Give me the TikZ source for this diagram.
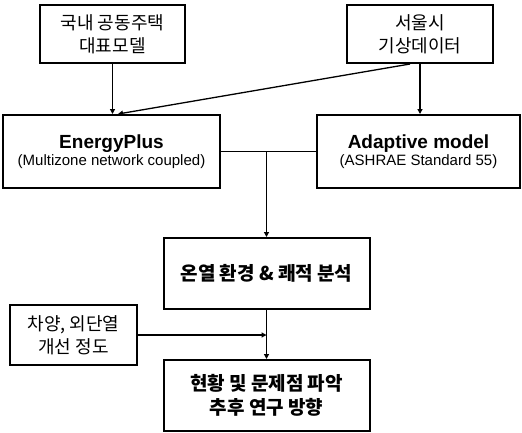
\documentclass[tikz,border=0pt]{standalone}
\usepackage{fontspec}
\setmainfont{Liberation Sans}
\newfontfamily\kr{Noto Sans CJK KR}
\usetikzlibrary{arrows.meta}
\begin{document}
\begin{tikzpicture}[x=1pt,y=-1pt,
  box/.style={draw,line width=2pt,rectangle,align=center,inner sep=0pt},
  krreg/.style={font=\kr\fontsize{18}{23}\selectfont},
  krbold/.style={font=\kr\bfseries\fontsize{19}{24}\selectfont},
  arr/.style={line width=1.3pt,-{Triangle[length=5pt,width=5pt]}},
  ln/.style={line width=1.3pt}]
\useasboundingbox (0,0) rectangle (522,432);
\node[box,krreg,minimum width=145,minimum height=58] (b1) at (112.5,34) {국내 공동주택\\대표모델};
\node[box,krreg,minimum width=146,minimum height=58] (b2) at (420,34) {서울시\\기상데이터};
\node[box,minimum width=217,minimum height=73] (ep) at (111.5,151.5) {{\fontsize{19}{23}\selectfont\bfseries EnergyPlus}\\[1pt]{\fontsize{15}{18}\selectfont (Multizone network coupled)}};
\node[box,minimum width=203,minimum height=73] (ad) at (418.5,151.5) {{\fontsize{19}{23}\selectfont\bfseries Adaptive model}\\[1pt]{\fontsize{15}{18}\selectfont (ASHRAE Standard 55)}};
\node[box,krbold,minimum width=206,minimum height=71] (th) at (266.5,273.5) {온열 환경 \& 쾌적 분석};
\node[box,krreg,minimum width=127,minimum height=60] (sh) at (73.5,335) {차양, 외단열\\개선 정도};
\node[box,krbold,minimum width=206,minimum height=71] (fin) at (266.5,395.5) {현황 및 문제점 파악\\추후 연구 방향};
\coordinate (j) at (th.north |- ep.east);
\coordinate (k) at (th.south |- sh.east);
\draw[arr] (b1) -- (b1 |- ep.north);
\draw[arr] ([xshift=-10]b2.south) -- ([xshift=6.5]ep.north);
\draw[arr] (b2.south) -- (b2.south |- ad.north);
\draw[ln] (ep.east) -- (ad.west);
\draw[arr] (j) -- (th.north);
\draw[arr] (th.south) -- (fin.north);
\draw[arr] (sh.east) -- (k);
\end{tikzpicture}
\end{document}
